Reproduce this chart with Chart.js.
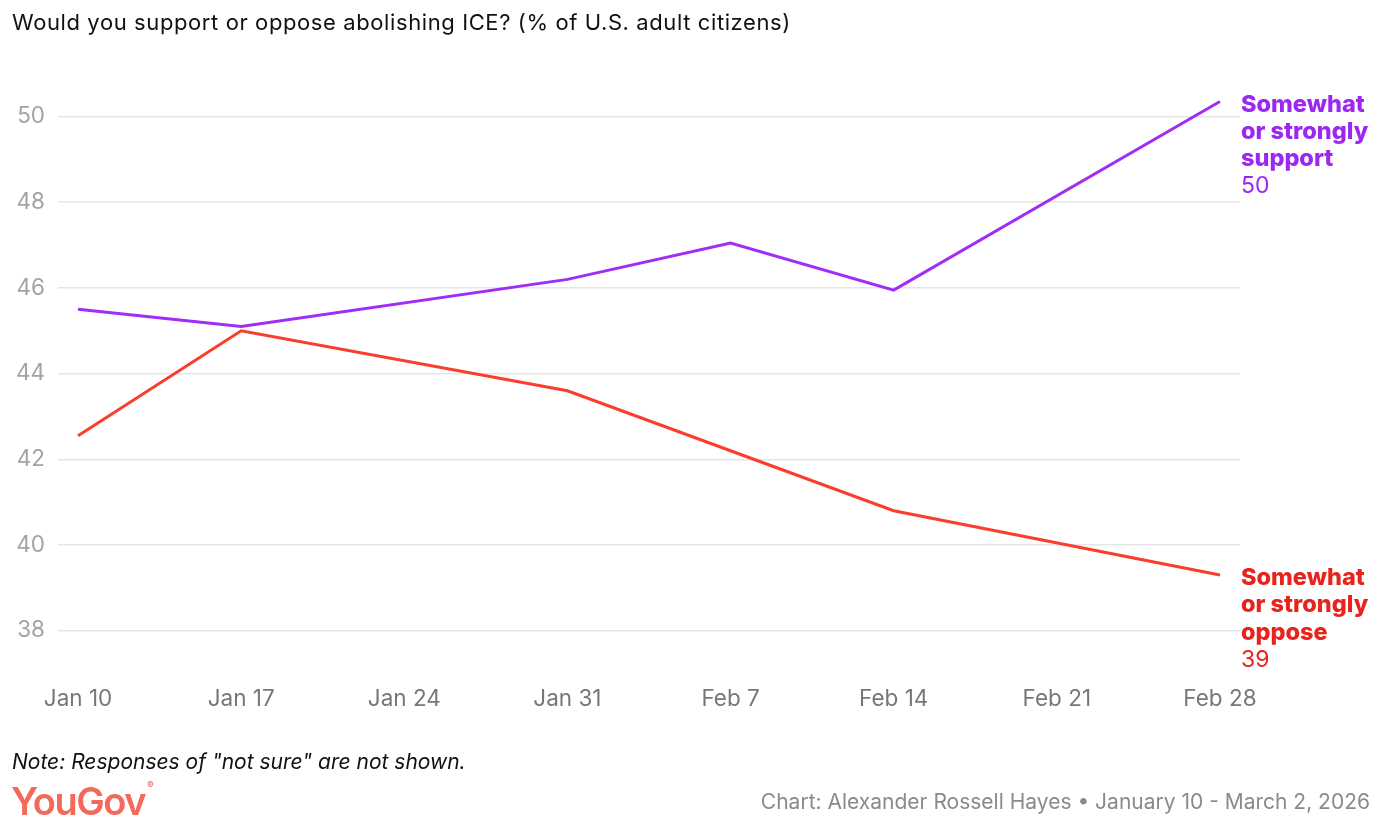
<!DOCTYPE html>
<html>
<head>
<meta charset="utf-8">
<script src="https://cdn.jsdelivr.net/npm/chart.js@4"></script>
<style>
  html, body { margin: 0; padding: 0; background: #fff; }
  body { width: 1394px; height: 836px; position: relative; overflow: hidden; font-family: Inter, "Noto Sans", sans-serif; }
  #wrap { position: absolute; left: 0; top: 0; width: 1394px; height: 836px; }
  .title { position: absolute; left: 12px; top: 9px; font-size: 22px; letter-spacing: 0.6px; color: #111; }
  .note { position: absolute; left: 12px; top: 749px; font-size: 21px; font-style: italic; color: #111; }
  .logo { position: absolute; left: 11px; top: 778px; font-size: 38px; font-weight: 600; color: #f4695a; letter-spacing: -1.5px; }
  .logo sup { font-size: 10px; letter-spacing: 0; vertical-align: 26px; margin-left: 2px; }
  .credit { position: absolute; right: 24px; top: 789px; font-size: 21px; color: #8a8a8a; }
</style>
</head>
<body>
<div id="wrap"><canvas id="chart" width="1394" height="836"></canvas></div>
<div class="title">Would you support or oppose abolishing ICE? (% of U.S. adult citizens)</div>
<div class="note">Note: Responses of "not sure" are not shown.</div>
<div class="logo">YouGov<sup>®</sup></div>
<div class="credit">Chart: Alexander Rossell Hayes • January 10 - March 2, 2026</div>

<script>
/* --------------------------
   DATA
-------------------------- */
const dayOffsets = [0, 7, 14, 21, 28, 35, 42, 49];   // days since Jan 10
const tickLabels = ["Jan 10", "Jan 17", "Jan 24", "Jan 31", "Feb 7", "Feb 14", "Feb 21", "Feb 28"];
const supportValues = [45.5, 45.1, null, 46.2, 47.05, 45.95, null, 50.35];
const opposeValues  = [42.55, 45.0, null, 43.6, 42.2, 40.8, null, 39.3];
const yTicks = [38, 40, 42, 44, 46, 48, 50];

const seriesNames = [["Somewhat", "or strongly", "support"], ["Somewhat", "or strongly", "oppose"]];
const endValues = ["50", "39"];

const PURPLE = "#a02cf7";
const RED = "#fa3d2c";
const LABEL_COLORS = ["#9c27f2", "#e8231c"];

function toPoints(values) {
    return values.map((v, i) => ({ x: dayOffsets[i], y: v }));
}

/* --------------------------
   END LABELS
-------------------------- */
const endLabels = {
    id: "endLabels",
    afterDatasetsDraw(chart) {
        const ctx = chart.ctx;
        const x = chart.chartArea.right + 1;
        chart.data.datasets.forEach((ds, i) => {
            const meta = chart.getDatasetMeta(i);
            const last = meta.data[meta.data.length - 1];
            let y = last.y + 10;
            ctx.save();
            ctx.fillStyle = LABEL_COLORS[i];
            ctx.textAlign = "left";
            ctx.textBaseline = "alphabetic";
            ctx.font = "800 23.5px Inter, sans-serif";
            seriesNames[i].forEach(line => {
                ctx.fillText(line, x, y);
                y += 27.3;
            });
            ctx.font = "400 23px Inter, sans-serif";
            ctx.fillText(endValues[i], x, y);
            ctx.restore();
        });
    }
};

/* --------------------------
   CHART
-------------------------- */
new Chart(document.getElementById("chart"), {
    type: "line",
    data: {
        datasets: [
            {
                label: "Somewhat or strongly support",
                data: toPoints(supportValues),
                borderColor: PURPLE,
                borderWidth: 3,
                pointRadius: 0,
                spanGaps: true,
                tension: 0
            },
            {
                label: "Somewhat or strongly oppose",
                data: toPoints(opposeValues),
                borderColor: RED,
                borderWidth: 3,
                pointRadius: 0,
                spanGaps: true,
                tension: 0
            }
        ]
    },
    options: {
        responsive: false,
        animation: false,
        layout: { padding: { left: 0, right: 154, top: 70, bottom: 111 } },
        plugins: {
            legend: { display: false },
            tooltip: { enabled: false }
        },
        scales: {
            x: {
                type: "linear",
                min: -0.86,
                max: 49.86,
                afterBuildTicks: s => { s.ticks = dayOffsets.map(v => ({ value: v })); },
                afterFit: s => { s.height = 60; },
                grid: { display: false, drawTicks: false },
                border: { display: false },
                ticks: {
                    padding: 21,
                    maxRotation: 0,
                    autoSkip: false,
                    color: "#777",
                    font: { family: "Inter", size: 22.5 },
                    callback: v => tickLabels[dayOffsets.indexOf(v)]
                }
            },
            y: {
                min: 37.2,
                max: 51.086,
                afterBuildTicks: s => { s.ticks = yTicks.map(v => ({ value: v })); },
                afterFit: s => { s.width = 58; },
                grid: { color: "#e6e6e6", lineWidth: 1.5, drawTicks: false },
                border: { display: false },
                ticks: {
                    padding: 13,
                    color: "#a3a3a3",
                    font: { family: "Inter", size: 22.5 }
                }
            }
        }
    },
    plugins: [endLabels]
});
</script>
</body>
</html>
